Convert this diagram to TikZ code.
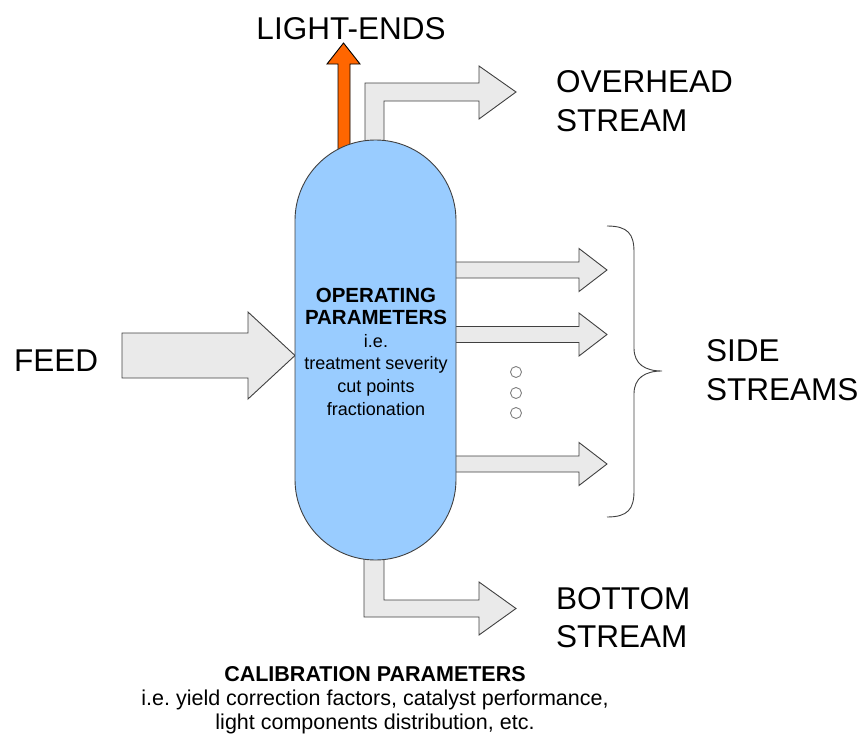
\documentclass[tikz,border=0pt]{standalone}
\usepackage{fontspec}
\setmainfont{Liberation Sans}
\frenchspacing
\definecolor{vesselblue}{HTML}{99CCFF}
\definecolor{pipegray}{HTML}{EAEAEA}
\definecolor{lightorange}{HTML}{FF6600}
\definecolor{edgegray}{HTML}{404040}
\tikzset{
  pipe/.style={draw=edgegray, fill=pipegray, line width=0.9pt, line join=miter},
  vent/.style={draw=black, fill=lightorange, line width=0.9pt},
  vessel/.style={draw=edgegray, fill=vesselblue, line width=0.9pt},
  biglabel/.style={font=\fontsize{31.5}{38}\selectfont, inner sep=0pt},
  innerlabel/.style={font=\fontsize{18}{22.6}\selectfont, align=center, inner sep=0pt},
  notelabel/.style={font=\fontsize{21.5}{24}\selectfont, align=center, inner sep=0pt},
  dot/.style={draw=gray, fill=white, line width=0.9pt},
}
\newcommand{\bighead}[1]{{\fontsize{20.5}{22.6}\selectfont\bfseries #1}}
\begin{document}
\begin{tikzpicture}[x=1pt, y=-1pt]
\useasboundingbox (0,0) rectangle (863,736);

% light-ends vent
\draw[vent] (338,150) -- (338,64) -- (327,64) -- (343.5,43) -- (360,64) -- (350,64) -- (350,150);

% overhead stream
\draw[pipe] (365,150) -- (365,83) -- (479,83) -- (479,66) -- (516,92) -- (479,119) -- (479,101) -- (384,101) -- (384,150);

% bottom stream
\draw[pipe] (364,550) -- (364,617) -- (479,617) -- (479,635) -- (516,608.5) -- (479,582) -- (479,600) -- (384,600) -- (384,550);

% feed
\draw[pipe] (122,333) -- (248,333) -- (248,312) -- (295,355.5) -- (248,399) -- (248,378) -- (122,378) -- cycle;

% side draws
\foreach \c in {270,334.5,464}{
  \draw[pipe] (450,\c-8) -- (579,\c-8) -- (579,\c-21.5) -- (607,\c) -- (579,\c+21.5) -- (579,\c+8) -- (450,\c+8);
}

% column
\draw[vessel, rounded corners=80.5pt] (295,140) rectangle (456,560);
\node[innerlabel, anchor=base] (op) at (376,415)
  {\bighead{OPERATING}\\ \bighead{PARAMETERS}\\ i.e.\\ treatment severity\\ cut points\\ fractionation};

% further side draws
\foreach \y [count=\i] in {372,393,413}{
  \node[dot, circle, minimum size=11pt, inner sep=0pt] (d\i) at (516,\y) {};
}

% brace grouping the side draws
\draw[edgegray, line width=0.9pt] (607,226) .. controls (628,226) and (634,234) .. (634,252)
  -- (634,348) .. controls (634,364) and (645,371) .. (662,371)
  .. controls (645,371) and (634,378) .. (634,394)
  -- (634,491) .. controls (634,509) and (628,517) .. (607,517);

% stream labels
\node[biglabel, anchor=base] (le) at (351,39) {LIGHT-ENDS};
\node[biglabel, anchor=base west] (oh1) at (556,92.5) {OVERHEAD};
\node[biglabel, anchor=base west] (oh2) at (556,131) {STREAM};
\node[biglabel, anchor=base west] (fd) at (14,371) {FEED};
\node[biglabel, anchor=base west] (ss1) at (706,361) {SIDE};
\node[biglabel, anchor=base west] (ss2) at (706,400) {STREAMS};
\node[biglabel, anchor=base west] (bt1) at (556,609) {BOTTOM};
\node[biglabel, anchor=base west] (bt2) at (556,647) {STREAM};

% calibration note
\node[notelabel, anchor=base] (cal) at (375,729)
  {\textbf{CALIBRATION PARAMETERS}\\ i.e. yield correction factors, catalyst performance,\\ light components distribution, etc.};
\end{tikzpicture}
\end{document}
